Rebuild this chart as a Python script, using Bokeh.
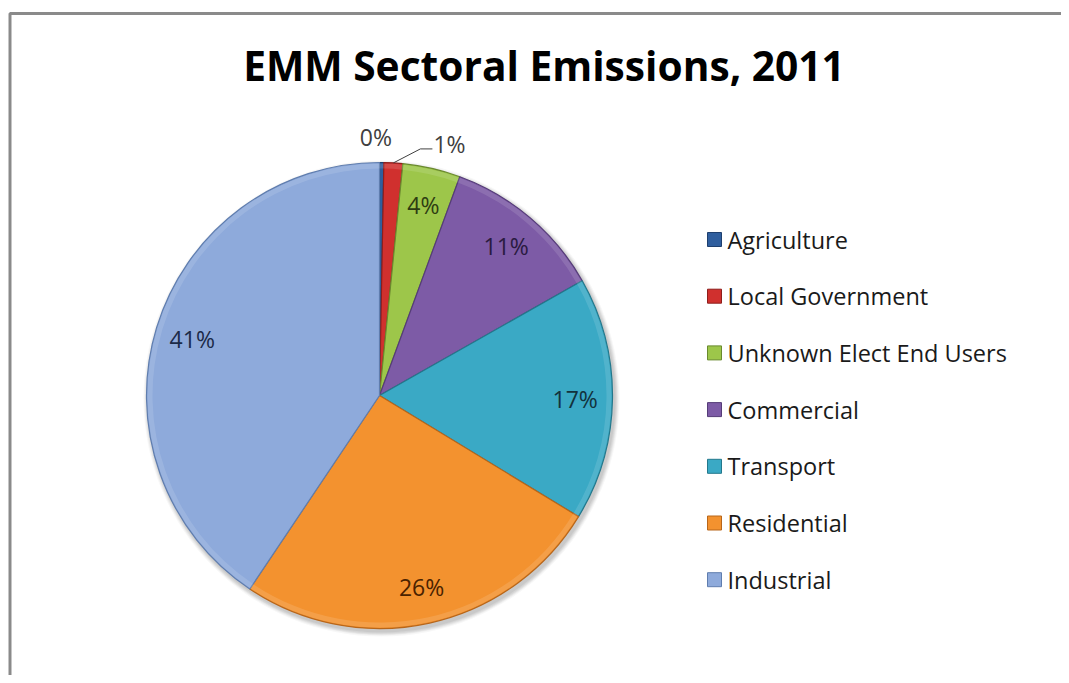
import numpy as np
from bokeh.plotting import figure
from bokeh.models import Range1d, ColumnDataSource
from bokeh.core.properties import value
from bokeh.embed import file_html
from bokeh.resources import INLINE

# ---- data ----
categories = ["Agriculture", "Local Government", "Unknown Elect End Users",
              "Commercial", "Transport", "Residential", "Industrial"]
shares = [0.3, 1.3, 4.0, 11.2, 16.9, 25.7, 40.6]
colors = ["#2F5E9E", "#D0302E", "#9DC64A", "#7D5BA6", "#3AA9C5", "#F3922F", "#8EAADB"]
edge_colors = ["#1E3F6E", "#8E1E1C", "#6A8A2E", "#553C78", "#23788C", "#B8661A", "#5F7DAE"]
label_colors = ["#404040", "#404040", "#2E3D12", "#2A1A40", "#12323C", "#4A2200", "#1C2A48"]
title_text = "EMM Sectoral Emissions, 2011"

W, H = 1061, 675
FONT = "Open Sans"


def X(xr):
    return xr


def Y(yr):
    return H - yr


p = figure(width=W, height=H, output_backend="svg", toolbar_location=None,
           x_range=Range1d(0, W), y_range=Range1d(0, H), min_border=0)
p.axis.visible = False
p.grid.visible = False
p.outline_line_color = None
p.background_fill_color = "white"
p.border_fill_color = "white"

# chart frame (top and left edges visible in the crop)
p.line(x=[X(9.5), X(9.5), W + 20], y=[-20, Y(13), Y(13)], line_color="#8A8A8A", line_width=3)

# ---- pie ----
cx, cy, R = X(379), Y(395), 233
vals = np.array(shares, dtype=float)
frac = vals / vals.sum()
cum_end = np.cumsum(frac)
cum_start = cum_end - frac
start = np.pi / 2 - 2 * np.pi * cum_start
end = np.pi / 2 - 2 * np.pi * cum_end
mid = 2 * np.pi * (cum_start + cum_end) / 2  # clockwise from top

# soft shadow
for k, a in enumerate([0.05, 0.05, 0.05, 0.04, 0.03]):
    p.circle(x=cx + 2, y=cy - 3, radius=R + 1 + k, fill_color="#000000",
             fill_alpha=a, line_color=None)

src = ColumnDataSource(dict(start=start, end=end, color=colors, edge=edge_colors))
p.wedge(x=cx, y=cy, radius=R, start_angle="start", end_angle="end",
        direction="clock", fill_color="color", line_color="edge", line_width=1.2,
        source=src)
# subtle bevel highlight on the rim
p.annular_wedge(x=cx, y=cy, inner_radius=R - 6, outer_radius=R - 1,
                start_angle="start", end_angle="end", direction="clock",
                fill_color="white", fill_alpha=0.12, line_color=None, source=src)

# ---- data labels ----
pct = [f"{int(round(v))}%" for v in (frac * 100)]
in_idx = [i for i in range(len(shares)) if frac[i] >= 0.03]
rf = 0.84
lx = [cx + rf * R * np.sin(mid[i]) for i in in_idx]
ly = [cy + rf * R * np.cos(mid[i]) for i in in_idx]
p.text(x=lx, y=ly, text=[pct[i] for i in in_idx],
       text_color=[label_colors[i] for i in in_idx],
       text_align="center", text_baseline="middle",
       text_font=value(FONT), text_font_size="23px")

# outside labels for the tiny slices
# Agriculture: label just above the slice
ax_ = cx + 1.11 * R * np.sin(mid[0]) - 6
ay_ = cy + 1.11 * R * np.cos(mid[0])
p.text(x=[ax_], y=[ay_], text=[pct[0]], text_color=label_colors[0],
       text_align="center", text_baseline="middle",
       text_font=value(FONT), text_font_size="23px")
# Local Government: with leader line
ex = cx + R * np.sin(mid[1])
ey = cy + R * np.cos(mid[1])
elx, ely = ex + 27, ey + 14
hx = elx + 12
p.line(x=[ex, elx, hx], y=[ey, ely, ely], line_color="#404040", line_width=1)
p.text(x=[hx + 1], y=[ely + 5], text=[pct[1]], text_color=label_colors[1],
       text_align="left", text_baseline="middle",
       text_font=value(FONT), text_font_size="23px")

# ---- legend (manual) ----
n = len(categories)
leg_y = [Y(239 + 56.7 * i) for i in range(n)]
p.scatter(x=[X(714)] * n, y=leg_y, marker="square", size=14,
          fill_color=colors, line_color=edge_colors, line_width=1)
p.text(x=[X(727)] * n, y=leg_y, text=categories, text_color="#1A1A1A",
       text_align="left", text_baseline="middle",
       text_font=value(FONT), text_font_size="23.5px")

# ---- title ----
p.text(x=[X(543.5)], y=[Y(64)], text=[title_text], text_color="#000000",
       text_align="center", text_baseline="middle",
       text_font=value(FONT), text_font_style="bold", text_font_size="40.7px")

open("out.html", "w").write(file_html(p, INLINE))
